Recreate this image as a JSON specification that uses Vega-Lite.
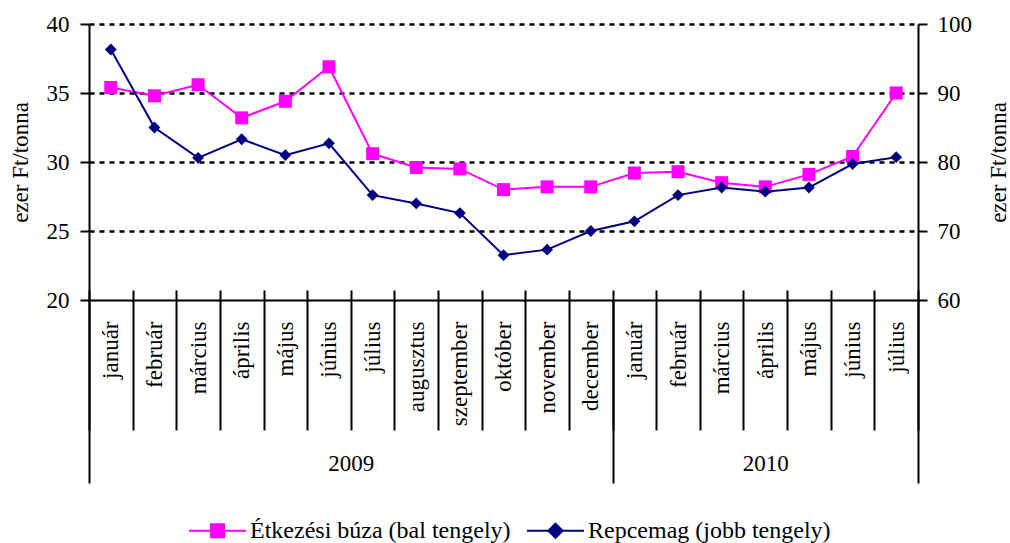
{
  "$schema": "https://vega.github.io/schema/vega-lite/v6.json",
  "width": 829,
  "height": 276,
  "autosize": {"type": "none"},
  "padding": {"left": 89, "top": 24, "right": 92, "bottom": 243},
  "background": "white",
  "config": {
    "view": {"stroke": null},
    "font": "Liberation Serif",
    "axis": {
      "labelFont": "Liberation Serif",
      "titleFont": "Liberation Serif",
      "labelColor": "black",
      "titleColor": "black",
      "domainColor": "black",
      "tickColor": "black",
      "labelFontSize": 23,
      "titleFontSize": 23,
      "titleFontWeight": "normal",
      "domainWidth": 2,
      "tickWidth": 2
    },
    "legend": {
      "orient": "none", "legendX": 99, "legendY": 477, "direction": "horizontal", "title": null,
      "symbolSize": 3249, "symbolStrokeWidth": 2, "symbolOpacity": 1, "labelFontSize": 24, "labelFont": "Liberation Serif", "labelColor": "black",
      "labelOffset": 3, "columnPadding": 12, "padding": 0, "labelLimit": 0
    }
  },
  "data": {
    "values": [
      {"i": 0, "period": "2009 január", "year": 2009, "buza": 35.4, "repce": 96.3},
      {"i": 1, "period": "2009 február", "year": 2009, "buza": 34.8, "repce": 85.0},
      {"i": 2, "period": "2009 március", "year": 2009, "buza": 35.6, "repce": 80.6},
      {"i": 3, "period": "2009 április", "year": 2009, "buza": 33.2, "repce": 83.3},
      {"i": 4, "period": "2009 május", "year": 2009, "buza": 34.4, "repce": 81.0},
      {"i": 5, "period": "2009 június", "year": 2009, "buza": 36.9, "repce": 82.7},
      {"i": 6, "period": "2009 július", "year": 2009, "buza": 30.6, "repce": 75.2},
      {"i": 7, "period": "2009 augusztus", "year": 2009, "buza": 29.6, "repce": 74.0},
      {"i": 8, "period": "2009 szeptember", "year": 2009, "buza": 29.5, "repce": 72.6},
      {"i": 9, "period": "2009 október", "year": 2009, "buza": 28.0, "repce": 66.5},
      {"i": 10, "period": "2009 november", "year": 2009, "buza": 28.2, "repce": 67.3},
      {"i": 11, "period": "2009 december", "year": 2009, "buza": 28.2, "repce": 70.0},
      {"i": 12, "period": "2010 január", "year": 2010, "buza": 29.2, "repce": 71.4},
      {"i": 13, "period": "2010 február", "year": 2010, "buza": 29.3, "repce": 75.2},
      {"i": 14, "period": "2010 március", "year": 2010, "buza": 28.5, "repce": 76.3},
      {"i": 15, "period": "2010 április", "year": 2010, "buza": 28.2, "repce": 75.7},
      {"i": 16, "period": "2010 május", "year": 2010, "buza": 29.1, "repce": 76.3},
      {"i": 17, "period": "2010 június", "year": 2010, "buza": 30.4, "repce": 79.7},
      {"i": 18, "period": "2010 július", "year": 2010, "buza": 35.0, "repce": 80.7}
    ]
  },
  "layer": [
    {
      "mark": {"type": "line", "color": "#FF00FF", "strokeWidth": 2},
      "encoding": {
        "x": {
          "field": "period", "type": "ordinal", "sort": null,
          "scale": {"type": "band", "paddingInner": 0, "paddingOuter": 0},
          "axis": {
            "orient": "bottom", "title": null, "tickBand": "extent", "tickSize": 130,
            "labelAngle": -90, "labelAlign": "right", "labelBaseline": "middle",
            "labelPadding": -109, "labelExpr": "split(datum.value, ' ')[1]",
            "labelFontSize": 23, "grid": false
          }
        },
        "y": {
          "field": "buza", "type": "quantitative",
          "scale": {"domain": [20, 40], "nice": false, "zero": false},
          "axis": {
            "orient": "left", "title": "ezer Ft/tonna", "values": [20, 25, 30, 35, 40],
            "tickSize": 9, "labelPadding": 11, "titlePadding": 14,
            "grid": true, "gridColor": "black", "gridDash": [5, 5], "gridWidth": 2.5,
            "gridOpacity": {"condition": {"test": "datum.value == 20", "value": 0}, "value": 1}
          }
        }
      }
    },
    {
      "mark": {"type": "point", "filled": true, "size": 169, "opacity": 1, "shape": "square", "color": "#FF00FF"},
      "encoding": {
        "x": {"field": "period", "type": "ordinal", "sort": null, "scale": {"type": "band", "paddingInner": 0, "paddingOuter": 0}, "axis": null},
        "y": {"field": "buza", "type": "quantitative", "scale": {"domain": [20, 40], "nice": false, "zero": false}, "axis": null}
      }
    },
    {
      "mark": {"type": "line", "color": "#000080", "strokeWidth": 2},
      "encoding": {
        "x": {
          "field": "period", "type": "ordinal", "sort": null,
          "scale": {"type": "band", "paddingInner": 0, "paddingOuter": 0},
          "axis": {"orient": "bottom", "title": null, "tickBand": "extent", "tickSize": -10, "labels": false, "domain": false, "grid": false}
        },
        "y": {
          "field": "repce", "type": "quantitative",
          "scale": {"domain": [60, 100], "nice": false, "zero": false},
          "axis": {
            "orient": "right", "title": "ezer Ft/tonna", "values": [60, 70, 80, 90, 100],
            "tickSize": 9, "labelPadding": 10, "titlePadding": 16, "titleAngle": -90, "titleBaseline": "top",
            "grid": false
          }
        }
      }
    },
    {
      "mark": {"type": "point", "filled": true, "size": 140, "opacity": 1, "shape": "diamond", "color": "#000080"},
      "encoding": {
        "x": {"field": "period", "type": "ordinal", "sort": null, "scale": {"type": "band", "paddingInner": 0, "paddingOuter": 0}, "axis": null},
        "y": {"field": "repce", "type": "quantitative", "scale": {"domain": [60, 100], "nice": false, "zero": false}, "axis": null}
      }
    },
    {
      "mark": {"type": "point", "opacity": 0},
      "encoding": {
        "x": {
          "field": "i", "type": "quantitative",
          "scale": {"domain": [0, 19], "nice": false, "zero": false},
          "axis": {
            "orient": "bottom", "title": null, "values": [0, 6, 12, 15.5, 19],
            "tickSize": 183, "tickWidth": 2,
            "tickOpacity": {"condition": {"test": "datum.value == 6 || datum.value == 15.5", "value": 0}, "value": 1},
            "labelExpr": "datum.value == 6 ? '2009' : datum.value == 15.5 ? '2010' : ''",
            "labelPadding": -31, "labelAngle": 0, "labelFlush": false, "labelOverlap": false,
            "domain": false, "grid": false, "labelFontSize": 23
          }
        },
        "y": {"field": "buza", "type": "quantitative", "scale": {"domain": [20, 40], "nice": false, "zero": false}, "axis": null}
      }
    },
    {
      "mark": {"type": "point", "filled": true, "size": 0},
      "encoding": {
        "x": {"field": "period", "type": "ordinal", "sort": null, "scale": {"type": "band", "paddingInner": 0, "paddingOuter": 0}, "axis": null},
        "y": {"field": "buza", "type": "quantitative", "scale": {"domain": [20, 40], "nice": false, "zero": false}, "axis": null},
        "color": {"datum": "Étkezési búza (bal tengely)", "scale": {"domain": ["Étkezési búza (bal tengely)", "Repcemag (jobb tengely)"], "range": ["#FF00FF", "#000080"]}},
        "stroke": {"datum": "Étkezési búza (bal tengely)", "scale": {"domain": ["Étkezési búza (bal tengely)", "Repcemag (jobb tengely)"], "range": ["#FF00FF", "#000080"]}},
        "shape": {"datum": "Étkezési búza (bal tengely)", "scale": {"domain": ["Étkezési búza (bal tengely)", "Repcemag (jobb tengely)"], "range": ["M-1,0H1M-0.23,-0.23H0.23V0.23H-0.23Z", "M-1,0H1M0,-0.25L0.25,0L0,0.25L-0.25,0Z"]}}
      }
    },
    {
      "mark": {"type": "point", "filled": true, "size": 0},
      "encoding": {
        "x": {"field": "period", "type": "ordinal", "sort": null, "scale": {"type": "band", "paddingInner": 0, "paddingOuter": 0}, "axis": null},
        "y": {"field": "repce", "type": "quantitative", "scale": {"domain": [60, 100], "nice": false, "zero": false}, "axis": null},
        "color": {"datum": "Repcemag (jobb tengely)"},
        "stroke": {"datum": "Repcemag (jobb tengely)"},
        "shape": {"datum": "Repcemag (jobb tengely)"}
      }
    }
  ],
  "resolve": {"scale": {"x": "independent", "y": "independent"}}
}
